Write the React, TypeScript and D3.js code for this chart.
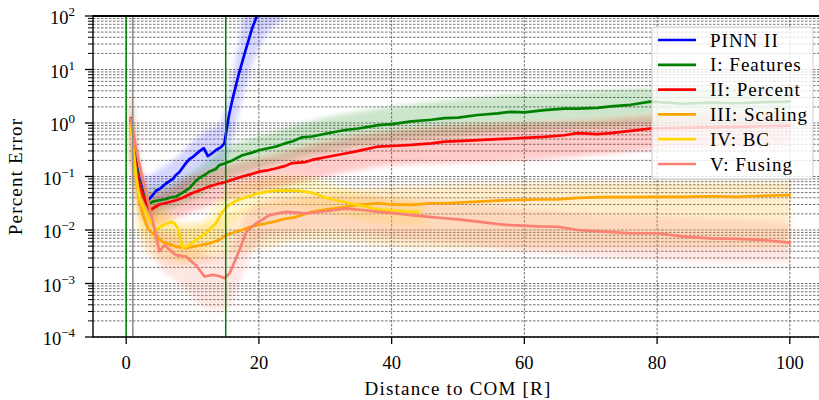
import React from "react";
import * as d3 from "d3";

// ---- data ----
const seriesNames = ["PINN II", "I: Features", "II: Percent", "III: Scaling", "IV: BC", "V: Fusing"];
const seriesColors = ["#0000ff", "#008000", "#ff0000", "#ffa500", "#ffd700", "#fa8072"];

const pinnDist = [0.7, 1.0, 1.5, 2.0, 2.5, 3.0, 3.3, 3.8, 4.5, 5.0, 6.0, 7.0, 7.5, 8.0, 9.0, 9.5, 10.0, 11.0, 11.7, 12.3, 13.0, 13.6, 14.3, 14.8, 15.1, 15.5, 16.0, 17.0, 18.0, 19.0, 20.0];
const pinnErr = [1.12, 0.56, 0.18, 0.089, 0.056, 0.039, 0.036, 0.042, 0.054, 0.058, 0.074, 0.089, 0.107, 0.12, 0.178, 0.21, 0.23, 0.295, 0.34, 0.24, 0.275, 0.316, 0.355, 0.417, 0.71, 1.41, 2.7, 8.5, 23, 60, 126];

const featDist = [0.7, 1.0, 1.5, 2.0, 2.5, 3.0, 3.3, 4.0, 5.0, 6.0, 6.5, 7.5, 8.5, 9.5, 10.5, 11.0, 12.0, 12.5, 13.5, 14.0, 15.0, 16.0, 17.5, 19.0, 20.0, 21.0, 22.5, 24.0, 25.0, 26.5, 28.0, 30.0, 33.0, 35.0, 38.0, 40.0, 43.0, 46.0, 48.0, 50.0, 53.0, 56.0, 58.0, 60.0, 63.0, 66.0, 68.0, 71.0, 73.0, 76.0, 79.0, 84, 88, 92, 96, 100];
const featErr = [1.12, 0.5, 0.158, 0.079, 0.05, 0.035, 0.03, 0.034, 0.036, 0.038, 0.04, 0.042, 0.05, 0.06, 0.083, 0.093, 0.11, 0.123, 0.138, 0.162, 0.178, 0.2, 0.25, 0.28, 0.31, 0.33, 0.36, 0.42, 0.45, 0.54, 0.56, 0.63, 0.74, 0.79, 0.91, 0.95, 1.07, 1.15, 1.23, 1.26, 1.41, 1.51, 1.62, 1.58, 1.74, 1.86, 1.86, 1.91, 2.04, 2.19, 2.51, 2.29, 2.4, 2.34, 2.45, 2.51];

const pctDist = [0.7, 1.0, 1.5, 2.0, 2.5, 3.0, 3.6, 4.5, 5.0, 6.0, 7.5, 8.5, 10.0, 11.0, 12.5, 14.0, 15.0, 16.0, 17.5, 19.0, 20.0, 21.5, 22.5, 24.0, 25.0, 27.0, 28.0, 30.0, 33.0, 35.0, 38.0, 40.0, 43.0, 46.0, 48.0, 50.0, 53.0, 56.0, 58.0, 60.0, 63.0, 66.0, 68.0, 71.0, 73.0, 76.0, 79.0, 84, 88, 92, 96, 100];
const pctErr = [1.23, 0.5, 0.141, 0.071, 0.045, 0.032, 0.0234, 0.0275, 0.03, 0.032, 0.036, 0.04, 0.049, 0.055, 0.065, 0.074, 0.079, 0.087, 0.1, 0.112, 0.123, 0.132, 0.141, 0.158, 0.178, 0.186, 0.204, 0.229, 0.269, 0.302, 0.363, 0.372, 0.389, 0.417, 0.447, 0.457, 0.479, 0.5, 0.513, 0.525, 0.55, 0.59, 0.646, 0.617, 0.646, 0.71, 0.79, 0.81, 0.83, 0.85, 0.87, 0.89];

const scalDist = [0.7, 1.0, 1.5, 2.0, 2.5, 3.3, 4.0, 5.5, 7.5, 9.0, 10.5, 12.5, 14.0, 15.0, 16.5, 17.5, 18.5, 20.0, 21.0, 22.5, 23.5, 25.5, 28.0, 30.0, 33.0, 35.0, 38.0, 40.0, 43.0, 46.0, 48.0, 50.0, 53.0, 56.0, 58.0, 62.0, 65.0, 68.0, 72.0, 76.0, 80.0, 84.0, 88.0, 92.0, 96.0, 100];
const scalErr = [1.0, 0.4, 0.1, 0.035, 0.019, 0.0105, 0.0087, 0.006, 0.0049, 0.0046, 0.005, 0.0056, 0.0065, 0.0079, 0.0093, 0.01, 0.0112, 0.0126, 0.0132, 0.0145, 0.0158, 0.0174, 0.0219, 0.024, 0.0269, 0.0295, 0.0316, 0.03, 0.0295, 0.0316, 0.0316, 0.0324, 0.0339, 0.0355, 0.0363, 0.0372, 0.0372, 0.04, 0.041, 0.041, 0.0417, 0.0417, 0.0427, 0.0417, 0.0437, 0.0447];

const bcDist = [0.7, 1.0, 1.5, 2.0, 2.3, 3.0, 3.5, 4.5, 5.5, 6.8, 7.3, 7.8, 8.5, 9.5, 10.5, 12.0, 13.5, 14.5, 15.5, 16.5, 17.5, 19.0, 20.0, 22.0, 24.0, 26.0, 28.0, 30.0, 33.0, 36.0, 38.0, 40.0, 42.0, 44.0];
const bcErr = [1.05, 0.4, 0.1, 0.04, 0.032, 0.02, 0.0155, 0.01, 0.0123, 0.0141, 0.0132, 0.0107, 0.0046, 0.0052, 0.0065, 0.0087, 0.0132, 0.0219, 0.0295, 0.0347, 0.039, 0.0447, 0.049, 0.054, 0.055, 0.054, 0.05, 0.04, 0.033, 0.0275, 0.024, 0.0234, 0.0224, 0.0219];

const fuseDist = [0.7, 1.0, 1.75, 2.75, 3.5, 4.3, 5.0, 5.8, 6.5, 7.5, 9.0, 10.5, 11.8, 13.0, 14.0, 14.8, 15.6, 16.3, 17.1, 18.1, 19.6, 21.6, 24.1, 27.0, 30.0, 33.0, 36.0, 38.0, 40.0, 43.0, 46.0, 48.0, 50.0, 53.0, 56.0, 58.0, 62.0, 65.0, 68.0, 72.0, 76.0, 80.0, 84.0, 88.0, 92.0, 96.0, 100];
const fuseErr = [1.2, 0.71, 0.234, 0.065, 0.0275, 0.01, 0.004, 0.0052, 0.0043, 0.0034, 0.0032, 0.0022, 0.00135, 0.00145, 0.00138, 0.00126, 0.00155, 0.0025, 0.0043, 0.0093, 0.0133, 0.019, 0.0219, 0.0204, 0.0224, 0.0251, 0.0234, 0.0219, 0.0209, 0.019, 0.0174, 0.0166, 0.0158, 0.0143, 0.0129, 0.0123, 0.0117, 0.0115, 0.01, 0.0093, 0.0087, 0.0087, 0.0075, 0.007, 0.0068, 0.0065, 0.0058];

// spread of the per-sample scatter clouds (lower / upper envelope)
const pinnCloudDist = [0.6, 1.5, 3, 5, 8, 10, 12, 14, 15, 16, 17, 18, 19, 20, 22, 24];
const pinnCloudLo = [0.25, 0.05, 0.018, 0.025, 0.045, 0.079, 0.11, 0.14, 0.2, 0.5, 1.6, 5, 12.6, 25, 63, 95];
const pinnCloudHi = [3.2, 0.32, 0.1, 0.14, 0.25, 0.45, 0.71, 0.89, 2, 8, 32, 150, 150, 150, 150, 150];

const featCloudDist = [0.6, 2, 3.3, 6, 10, 15, 20, 30, 40, 50, 60, 70, 80, 90, 100];
const featCloudLo = [0.25, 0.032, 0.018, 0.022, 0.035, 0.089, 0.14, 0.28, 0.45, 0.56, 0.71, 0.79, 0.89, 0.89, 0.89];
const featCloudHi = [5, 0.2, 0.063, 0.071, 0.126, 0.35, 0.56, 1.26, 2.0, 2.8, 3.5, 4.0, 4.5, 4.5, 4.5];

const pctCloudDist = [0.6, 2, 3.5, 6, 10, 15, 20, 30, 40, 50, 60, 70, 80, 90, 100];
const pctCloudLo = [0.25, 0.025, 0.0126, 0.014, 0.022, 0.035, 0.05, 0.1, 0.16, 0.18, 0.2, 0.25, 0.32, 0.35, 0.35];
const pctCloudHi = [4, 0.16, 0.045, 0.056, 0.1, 0.16, 0.22, 0.45, 0.71, 0.89, 1.0, 1.12, 1.4, 1.6, 1.6];

const scalCloudDist = [0.6, 2, 3.5, 6, 9, 12, 15, 18, 22, 26, 30, 40, 50, 60, 70, 80, 90, 100];
const scalCloudLo = [0.25, 0.008, 0.0032, 0.0025, 0.0022, 0.0025, 0.0032, 0.004, 0.005, 0.0063, 0.0063, 0.005, 0.0045, 0.0045, 0.0045, 0.0045, 0.0045, 0.0045];
const scalCloudHi = [2.5, 0.1, 0.032, 0.016, 0.014, 0.014, 0.018, 0.025, 0.032, 0.04, 0.05, 0.063, 0.071, 0.076, 0.079, 0.079, 0.079, 0.079];

const bcCloudDist = [0.6, 2, 3.5, 5.5, 8.5, 11, 14, 16, 20, 25, 30, 35, 40, 45];
const bcCloudLo = [0.25, 0.0126, 0.0063, 0.005, 0.0025, 0.0032, 0.007, 0.014, 0.025, 0.028, 0.022, 0.016, 0.0126, 0.0126];
const bcCloudHi = [3.2, 0.08, 0.035, 0.028, 0.011, 0.0126, 0.035, 0.063, 0.089, 0.1, 0.079, 0.05, 0.04, 0.035];

const fuseCloudDist = [0.6, 2, 3.5, 5, 7, 9, 11, 13, 15, 17, 19, 22, 26, 30, 40, 50, 60, 70, 80, 90, 100];
const fuseCloudLo = [0.25, 0.025, 0.008, 0.002, 0.00126, 0.0008, 0.0004, 0.00032, 0.00032, 0.001, 0.004, 0.008, 0.0089, 0.01, 0.007, 0.0056, 0.004, 0.0032, 0.0028, 0.0025, 0.0025];
const fuseCloudHi = [6.3, 0.2, 0.05, 0.01, 0.008, 0.0063, 0.0045, 0.0032, 0.0035, 0.01, 0.028, 0.04, 0.045, 0.045, 0.04, 0.032, 0.025, 0.02, 0.018, 0.016, 0.014];

const xTicks = [0, 20, 40, 60, 80, 100];
const yExponents = [-4, -3, -2, -1, 0, 1, 2];
const vLinesGreen = [0, 15];
const vLinesGray = [1];

const xLabel = "Distance to COM [R]";
const yLabel = "Percent Error";

// ---- layout ----
const W = 819;
const H = 400;
const left = 93;
const right = 823;
const top = 16;
const bottom = 337;
const FONT = '"Liberation Serif"';
const txt = { fontFamily: FONT };

export default function App() {
  const x = d3.scaleLinear().domain([-5, 105]).range([left, right]);
  const y = d3.scaleLog().domain([1e-4, 1e2]).range([bottom, top]);

  const lines = [
    [pinnDist, pinnErr],
    [featDist, featErr],
    [pctDist, pctErr],
    [scalDist, scalErr],
    [bcDist, bcErr],
    [fuseDist, fuseErr],
  ];
  const clouds = [
    [pinnCloudDist, pinnCloudLo, pinnCloudHi],
    [featCloudDist, featCloudLo, featCloudHi],
    [pctCloudDist, pctCloudLo, pctCloudHi],
    [scalCloudDist, scalCloudLo, scalCloudHi],
    [bcCloudDist, bcCloudLo, bcCloudHi],
    [fuseCloudDist, fuseCloudLo, fuseCloudHi],
  ];

  const lineGen = d3
    .line<[number, number]>()
    .x((d) => x(d[0]))
    .y((d) => y(d[1]));
  const areaGen = d3
    .area<[number, number, number]>()
    .x((d) => x(d[0]))
    .y0((d) => y(d[1]))
    .y1((d) => y(d[2]))
    .curve(d3.curveMonotoneX);

  const minorVals: number[] = [];
  yExponents.slice(0, -1).forEach((e) => {
    for (let m = 2; m <= 9; m++) minorVals.push(m * Math.pow(10, e));
  });
  const majorVals = yExponents.map((e) => Math.pow(10, e));

  const legendX = 652;
  const legendY = 27;
  const rowH = 24.8;

  return (
    <div
      style={{
        position: "absolute",
        left: 0,
        top: 0,
        width: W,
        height: H,
        overflow: "hidden",
        background: "#fff",
        fontFamily: FONT,
      }}
    >
      <svg width={W} height={H} style={{ display: "block", fontFamily: FONT }}>
        <defs>
          <clipPath id="plot">
            <rect x={left} y={top} width={right - left} height={bottom - top} />
          </clipPath>
          <filter id="fuzz" x="-10%" y="-10%" width="120%" height="120%">
            <feGaussianBlur stdDeviation="2.5" />
          </filter>
        </defs>
        <rect x={0} y={0} width={W} height={H} fill="#fff" />

        {/* grid */}
        <g stroke="#222" strokeWidth={0.8} strokeDasharray="2.5,1.5" opacity={0.8}>
          {minorVals.map((v, i) => (
            <line key={"mn" + i} x1={left} x2={right} y1={y(v)} y2={y(v)} />
          ))}
          {majorVals.map((v, i) => (
            <line key={"mj" + i} x1={left} x2={right} y1={y(v)} y2={y(v)} />
          ))}
          {xTicks.map((t) => (
            <line key={"gx" + t} x1={x(t)} x2={x(t)} y1={top} y2={bottom} />
          ))}
        </g>

        {/* scatter clouds */}
        <g clipPath="url(#plot)">
          <g filter="url(#fuzz)">
            {clouds.map((c, i) => {
              const pts = c[0].map((d, j) => [d, c[1][j], c[2][j]] as [number, number, number]);
              return (
                <path key={"c" + i} d={areaGen(pts) || ""} fill={seriesColors[i]} fillOpacity={i === 0 ? 0.16 : 0.2} />
              );
            })}
          </g>
          {lines.map((s, i) => {
            const pts = s[0].map((d, j) => [d, s[1][j]] as [number, number]);
            return (
              <path
                key={"l" + i}
                d={lineGen(pts) || ""}
                fill="none"
                stroke={seriesColors[i]}
                strokeWidth={2.7}
                strokeLinejoin="round"
                strokeLinecap="round"
              />
            );
          })}
          {vLinesGray.map((v) => (
            <line key={"gv" + v} x1={x(v)} x2={x(v)} y1={top} y2={bottom} stroke="#888" strokeWidth={1.5} />
          ))}
          {vLinesGreen.map((v) => (
            <line key={"vg" + v} x1={x(v)} x2={x(v)} y1={top} y2={bottom} stroke="#008000" strokeWidth={1.5} />
          ))}
        </g>

        {/* spines */}
        <g stroke="#000" fill="none">
          <line x1={left} x2={left} y1={top - 0.8} y2={bottom + 0.6} strokeWidth={1.4} />
          <line x1={left} x2={W} y1={bottom} y2={bottom} strokeWidth={1.4} />
          <line x1={left} x2={W} y1={top} y2={top} strokeWidth={1.8} />
        </g>

        {/* x ticks */}
        <g>
          {xTicks.map((t) => (
            <g key={"xt" + t}>
              <line x1={x(t)} x2={x(t)} y1={bottom} y2={bottom + 7} stroke="#000" strokeWidth={1.3} />
              <text x={x(t)} y={368.5} textAnchor="middle" fontSize={18.5} fill="#000" style={txt}>
                {t}
              </text>
            </g>
          ))}
        </g>

        {/* y ticks */}
        <g>
          {minorVals.map((v, i) => (
            <line key={"ymt" + i} x1={left - 5} x2={left} y1={y(v)} y2={y(v)} stroke="#000" strokeWidth={1} />
          ))}
          {yExponents.map((e) => {
            const yy = y(Math.pow(10, e));
            const exp = e < 0 ? "\u2212" + Math.abs(e) : String(e);
            return (
              <g key={"yt" + e}>
                <line x1={left - 8} x2={left} y1={yy} y2={yy} stroke="#000" strokeWidth={1.3} />
                <text x={75} y={yy + 8} textAnchor="end" fontSize={18.5} fill="#000" style={txt}>
                  10
                  <tspan fontSize={13} dy={-8}>
                    {exp}
                  </tspan>
                </text>
              </g>
            );
          })}
        </g>

        {/* axis labels */}
        <text
          x={(left + right) / 2}
          y={395}
          textAnchor="middle"
          fontSize={19}
          letterSpacing={1.2}
          fill="#000"
          style={txt}
        >
          {xLabel}
        </text>
        <text
          transform={`translate(22, ${(top + bottom) / 2}) rotate(-90)`}
          textAnchor="middle"
          fontSize={19}
          letterSpacing={1.2}
          fill="#000"
          style={txt}
        >
          {yLabel}
        </text>

        {/* legend */}
        <g>
          <rect
            x={legendX}
            y={legendY}
            width={161}
            height={152}
            rx={3}
            fill="#fff"
            fillOpacity={0.8}
            stroke="#cccccc"
            strokeWidth={1}
          />
          {seriesNames.map((n, i) => {
            const yy = legendY + 13 + i * rowH;
            return (
              <g key={"lg" + i}>
                <line x1={658} x2={696} y1={yy} y2={yy} stroke={seriesColors[i]} strokeWidth={2.7} />
                <text x={710} y={yy + 6.5} fontSize={19} letterSpacing={1.0} fill="#000" style={txt}>
                  {n}
                </text>
              </g>
            );
          })}
        </g>
      </svg>
    </div>
  );
}
